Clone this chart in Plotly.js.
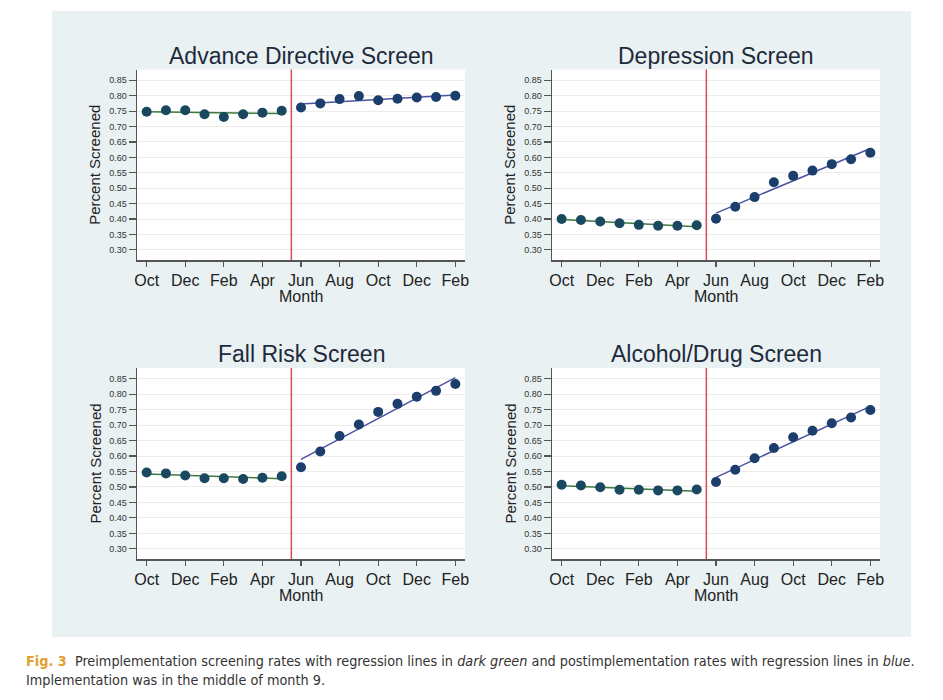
<!DOCTYPE html>
<html><head><meta charset="utf-8">
<script src="https://cdn.plot.ly/plotly-3.0.1.min.js"></script>
<style>html,body{margin:0;padding:0;background:#fff}#chart{width:943px;height:700px}</style>
</head><body><div id="chart"></div>
<script>
// ---- data ----
const preMonths = [1, 2, 3, 4, 5, 6, 7, 8];
const postMonths = [9, 10, 11, 12, 13, 14, 15, 16, 17];
const tickMonths = [1, 3, 5, 7, 9, 11, 13, 15, 17];
const tickLabels = ['Oct', 'Dec', 'Feb', 'Apr', 'Jun', 'Aug', 'Oct', 'Dec', 'Feb'];
const yTicks = [0.30, 0.35, 0.40, 0.45, 0.50, 0.55, 0.60, 0.65, 0.70, 0.75, 0.80, 0.85];
const implementationMonth = 8.5;
const panelTitles = ['Advance Directive Screen', 'Depression Screen', 'Fall Risk Screen', 'Alcohol/Drug Screen'];

const advancePre = [0.748, 0.753, 0.753, 0.740, 0.731, 0.740, 0.745, 0.751];
const advancePost = [0.762, 0.775, 0.789, 0.799, 0.785, 0.790, 0.794, 0.796, 0.800];
const depressionPre = [0.400, 0.397, 0.392, 0.386, 0.381, 0.378, 0.378, 0.380];
const depressionPost = [0.401, 0.440, 0.471, 0.519, 0.540, 0.557, 0.578, 0.594, 0.615];
const fallPre = [0.547, 0.544, 0.537, 0.528, 0.528, 0.526, 0.530, 0.535];
const fallPost = [0.564, 0.615, 0.665, 0.702, 0.743, 0.769, 0.792, 0.811, 0.833];
const alcoholPre = [0.507, 0.505, 0.499, 0.491, 0.491, 0.489, 0.489, 0.492];
const alcoholPost = [0.516, 0.556, 0.593, 0.626, 0.661, 0.682, 0.706, 0.725, 0.749];

const preSeries = [advancePre, depressionPre, fallPre, alcoholPre];
const postSeries = [advancePost, depressionPost, fallPost, alcoholPost];

// ---- helpers ----
function olsFit(xs, ys) {
  const n = xs.length;
  const mx = xs.reduce((a, b) => a + b, 0) / n;
  const my = ys.reduce((a, b) => a + b, 0) / n;
  let sxy = 0, sxx = 0;
  for (let i = 0; i < n; i++) { sxy += (xs[i] - mx) * (ys[i] - my); sxx += (xs[i] - mx) ** 2; }
  const b = sxy / sxx, a = my - b * mx;
  return xs.map(x => a + b * x);
}

const W = 943, H = 700;
const px = v => v / W;
const py = v => 1 - v / H;

// panel geometry in pixels: [left, right, top, bottom]
const panels = [
  [137, 465, 69.5, 260],
  [552, 880, 69.5, 260],
  [137, 465, 368, 559],
  [552, 880, 368, 559]
];

const preDot = '#1a4860', postDot = '#1c3e6c';
const greenLine = '#3b7a3e', blueLine = '#4c52a0';
const axisColor = '#555555';
const FONT = '"Liberation Sans", Arial, sans-serif';

const traces = [];
const layout = {
  width: W, height: H,
  margin: {l: 0, r: 0, t: 0, b: 0},
  paper_bgcolor: '#ffffff',
  plot_bgcolor: 'rgba(0,0,0,0)',
  showlegend: false,
  font: {family: FONT, color: '#222'},
  shapes: [
    {type: 'rect', xref: 'paper', yref: 'paper', x0: px(52), x1: px(911), y0: py(637), y1: py(11),
     fillcolor: '#e9f1f3', line: {width: 0}, layer: 'below'}
  ],
  annotations: []
};

panels.forEach((p, i) => {
  const k = i === 0 ? '' : String(i + 1);
  const xa = 'x' + k, ya = 'y' + k;
  const [l, r, t, b] = p;
  layout.shapes.push({type: 'rect', xref: 'paper', yref: 'paper', x0: px(l), x1: px(r), y0: py(b), y1: py(t),
    fillcolor: '#ffffff', line: {width: 0}, layer: 'below'});
  layout['xaxis' + k] = {
    domain: [px(l), px(r)], anchor: ya, range: [0.5, 17.5],
    tickmode: 'array', tickvals: tickMonths, ticktext: tickLabels,
    ticks: 'outside', ticklen: 5, tickwidth: 1.2, tickcolor: axisColor,
    showline: true, linecolor: axisColor, linewidth: 1.5,
    showgrid: false, zeroline: false,
    tickfont: {family: FONT, size: 16, color: '#222'}
  };
  layout['yaxis' + k] = {
    domain: [py(b), py(t)], anchor: xa, range: [0.267, 0.885],
    tickmode: 'array', tickvals: yTicks, tickformat: '.2f',
    ticks: 'outside', ticklen: 7, tickwidth: 1.2, tickcolor: axisColor,
    showline: true, linecolor: axisColor, linewidth: 1.5,
    showgrid: true, gridcolor: '#ececec', gridwidth: 1, zeroline: false,
    tickfont: {family: FONT, size: 9, color: '#333'}
  };
  // implementation line
  layout.shapes.push({type: 'line', xref: xa, yref: ya + ' domain', x0: implementationMonth, x1: implementationMonth,
    y0: 0, y1: 1, line: {color: '#d64a5c', width: 1.5}});
  // fit lines
  traces.push({x: preMonths, y: olsFit(preMonths, preSeries[i]), xaxis: xa, yaxis: ya, mode: 'lines',
    line: {color: greenLine, width: 1.5}, hoverinfo: 'skip'});
  traces.push({x: postMonths, y: olsFit(postMonths, postSeries[i]), xaxis: xa, yaxis: ya, mode: 'lines',
    line: {color: blueLine, width: 1.5}, hoverinfo: 'skip'});
  // points
  traces.push({x: preMonths, y: preSeries[i], xaxis: xa, yaxis: ya, mode: 'markers',
    marker: {color: preDot, size: 10, line: {width: 0}}});
  traces.push({x: postMonths, y: postSeries[i], xaxis: xa, yaxis: ya, mode: 'markers',
    marker: {color: postDot, size: 10, line: {width: 0}}});
  // titles
  layout.annotations.push({text: panelTitles[i], xref: 'paper', yref: 'paper', x: px((l + r) / 2), y: py(t - 14),
    xanchor: 'center', yanchor: 'middle', showarrow: false, font: {family: FONT, size: 23, color: '#1e2a3a'}});
  layout.annotations.push({text: 'Percent Screened', xref: 'paper', yref: 'paper', x: px(l - 42), y: py((t + b) / 2),
    xanchor: 'center', yanchor: 'middle', textangle: -90, showarrow: false, font: {family: FONT, size: 15, color: '#222'}});
  layout.annotations.push({text: 'Month', xref: 'paper', yref: 'paper', x: px((l + r) / 2), y: py(b + 36),
    xanchor: 'center', yanchor: 'middle', showarrow: false, font: {family: FONT, size: 16, color: '#222'}});
});

const CAP = '"Liberation Sans Narrow", "DejaVu Sans Condensed", "Liberation Sans", sans-serif';
layout.annotations.push({
  text: '<b><span style="color:#e3a02c">Fig. 3</span></b>  Preimplementation screening rates with regression lines in <i>dark green</i> and postimplementation rates with regression lines in <i>blue</i>.',
  xref: 'paper', yref: 'paper', x: px(24), y: py(661), xanchor: 'left', yanchor: 'middle', align: 'left',
  showarrow: false, font: {family: CAP, size: 14.3, color: '#333'}
});
layout.annotations.push({
  text: 'Implementation was in the middle of month 9.',
  xref: 'paper', yref: 'paper', x: px(24), y: py(680), xanchor: 'left', yanchor: 'middle', align: 'left',
  showarrow: false, font: {family: CAP, size: 14.3, color: '#333'}
});

Plotly.newPlot('chart', traces, layout, {displayModeBar: false, staticPlot: true});
</script>
</body></html>
